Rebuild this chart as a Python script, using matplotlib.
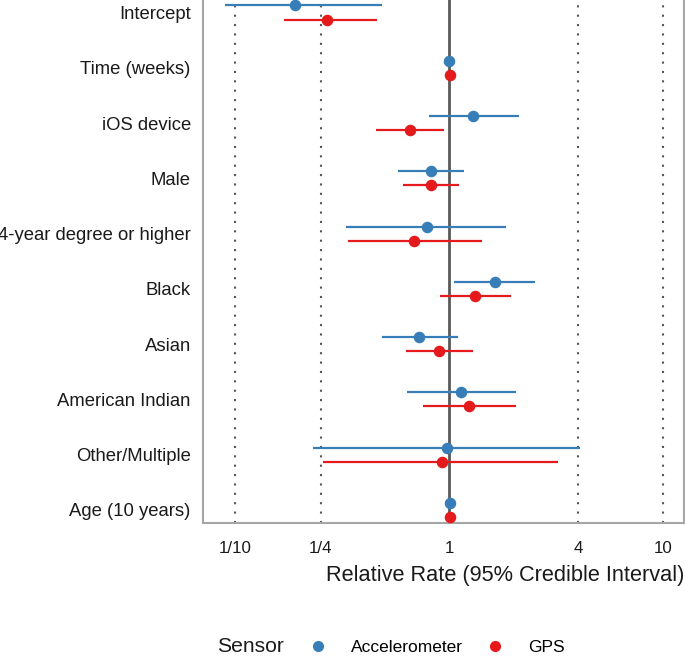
import numpy as np
import matplotlib
matplotlib.use("Agg")
import matplotlib.pyplot as plt
from matplotlib.lines import Line2D

plt.rcParams['font.family'] = ['Liberation Sans', 'DejaVu Sans']

# DATA
terms = ["Intercept", "Time (weeks)", "iOS device", "Male", "4-year degree or higher",
         "Black", "Asian", "American Indian", "Other/Multiple", "Age (10 years)"]

acc_est = [0.190, 1.000, 1.295, 0.819, 0.784, 1.635, 0.722, 1.134, 0.976, 1.003]
acc_lo = [0.089, 0.990, 0.801, 0.576, 0.330, 1.055, 0.485, 0.636, 0.231, 0.995]
acc_hi = [0.483, 1.010, 2.117, 1.171, 1.841, 2.515, 1.098, 2.043, 4.065, 1.010]

gps_est = [0.267, 1.004, 0.655, 0.819, 0.686, 1.323, 0.895, 1.240, 0.924, 1.003]
gps_lo = [0.168, 0.995, 0.453, 0.608, 0.337, 0.908, 0.630, 0.756, 0.256, 0.995]
gps_hi = [0.458, 1.012, 0.944, 1.106, 1.417, 1.949, 1.295, 2.043, 3.232, 1.010]

xticks = [0.1, 0.25, 1, 4, 10]
xticklabels = ["1/10", "1/4", "1", "4", "10"]

BLUE = "#377EB8"
RED = "#E41A1C"

fig = plt.figure(figsize=(6.85, 6.64), dpi=100)
ax = fig.add_axes([203.3 / 685, 1 - 522.7 / 664, (684 - 203.3) / 685, 522.7 / 664])

rows = np.arange(len(terms))
dodge = 0.127

# reference lines
for v in [0.1, 0.25, 4, 10]:
    ax.axvline(v, color="#555555", lw=1.5, ls=(0, (1, 3.5)), zorder=1)
ax.axvline(1, color="#595959", lw=2.0, zorder=1)

for est, lo, hi, col, off in [(acc_est, acc_lo, acc_hi, BLUE, -dodge),
                               (gps_est, gps_lo, gps_hi, RED, dodge)]:
    y = rows + off
    ax.hlines(y, lo, hi, color=col, lw=1.6, zorder=2)
    ax.plot(est, y, 'o', color=col, ms=7.3, mec=col, zorder=3)

ax.set_xscale('log')
ax.set_xlim(0.0708, 12.5)
ax.set_ylim(9.23, -0.226)

ax.set_xticks(xticks)
ax.set_xticklabels(xticklabels, fontsize=12.2, color="#1a1a1a")
ax.xaxis.set_minor_locator(matplotlib.ticker.NullLocator())
ax.set_yticks(rows)
ax.set_yticklabels(terms, fontsize=13.3, color="#1a1a1a")
ax.tick_params(axis='both', length=0)
ax.tick_params(axis='x', pad=13)
ax.tick_params(axis='y', pad=9)

for s in ax.spines.values():
    s.set_color("#a6a6a6")
    s.set_linewidth(1.5)
ax.spines['top'].set_visible(False)

fig.text(684 / 685, 1 - 576 / 664, "Relative Rate (95% Credible Interval)",
         ha='right', va='center', fontsize=15.7, color="#1a1a1a")

# legend
fig.text(216.7 / 685, 1 - 647 / 664, "Sensor", ha='left', va='center', fontsize=15.2, color="#1a1a1a")
handles = [Line2D([], [], ls='none', marker='o', color=BLUE, ms=7),
           Line2D([], [], ls='none', marker='o', color=RED, ms=7)]
fig.legend(handles, ["Accelerometer", "GPS"], ncol=2, frameon=False, fontsize=12.5,
           loc='center left', bbox_to_anchor=(309 / 685, 1 - 647 / 664),
           borderpad=0, borderaxespad=0, handlelength=1.0, handletextpad=1.4,
           columnspacing=1.36)

fig.savefig("out.png", dpi=100)
